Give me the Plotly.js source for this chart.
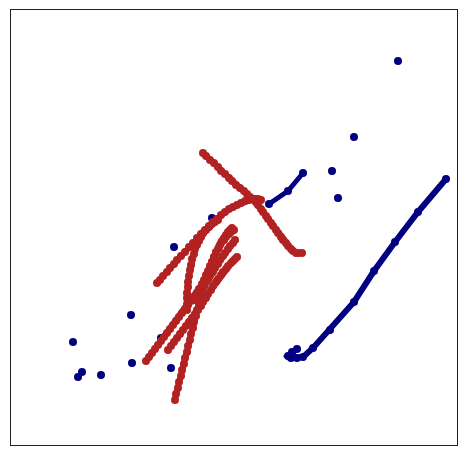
<!DOCTYPE html>
<html><head><meta charset="utf-8">
<script src="https://cdn.plot.ly/plotly-3.0.1.min.js"></script>
<style>html,body{margin:0;padding:0;background:#fff}</style>
</head><body><div id="chart" style="width:467px;height:456px"></div>
<script>
// Values (plot units; y grows downward)
const bluePtsX = [398, 354, 332, 338, 174, 212, 207, 131, 73, 78, 82, 101, 132, 171, 161];
const bluePtsY = [61, 137, 171, 198, 247, 218, 279, 315, 342, 377, 372, 375, 363, 368, 338];

const blueShortX = [269, 288, 303];
const blueShortY = [204, 191, 173];

const blueLongX = [446, 418, 395, 374, 354, 330, 313, 303, 297, 291, 288, 292, 297];
const blueLongY = [179, 212, 242, 271, 302, 330, 348, 357, 358, 358, 356, 352, 349];

const red1X = [203, 206, 210, 214, 218, 221, 225, 229, 232, 236, 240, 244, 247, 250, 253, 256, 258, 261, 263, 266, 268, 271, 273, 276, 278, 281, 283, 286, 288, 291, 293, 296, 298, 302];
const red1Y = [153, 156, 160, 163, 167, 171, 174, 178, 181, 185, 188, 191, 194, 197, 199, 202, 205, 209, 212, 216, 219, 223, 226, 230, 233, 237, 240, 243, 246, 249, 251, 253, 253, 253];

const red2X = [157, 160, 163, 167, 170, 174, 177, 181, 185, 189, 193, 197, 201, 205, 209, 213, 217, 221, 225, 229, 233, 237, 241, 245, 249, 252, 255, 258, 261];
const red2Y = [283, 280, 276, 272, 268, 264, 260, 256, 252, 247, 243, 238, 234, 230, 226, 222, 219, 215, 212, 209, 207, 205, 203, 201, 200, 199, 199, 199, 200];

const red3X = [146, 149, 152, 155, 158, 161, 164, 167, 170, 173, 176, 179, 182, 185, 188, 191, 194, 197, 199, 202, 204, 206, 208, 210, 212, 214, 216, 218, 220, 222, 224, 226, 228, 230, 232];
const red3Y = [361, 357, 353, 349, 345, 341, 337, 333, 329, 325, 321, 317, 313, 309, 305, 301, 297, 293, 289, 284, 280, 275, 271, 266, 262, 257, 253, 249, 245, 241, 238, 235, 232, 230, 228];

const red4X = [168, 171, 174, 177, 180, 183, 186, 189, 192, 195, 198, 201, 203, 206, 208, 211, 213, 216, 218, 221, 223, 226, 228, 231, 233, 235, 237];
const red4Y = [350, 346, 342, 338, 334, 330, 326, 322, 318, 314, 310, 306, 302, 298, 294, 290, 286, 282, 279, 275, 272, 269, 266, 263, 261, 259, 257];

const red5X = [175, 176, 178, 179, 181, 182, 184, 185, 187, 188, 190, 191, 193, 194, 196, 197, 199, 200, 202, 204, 206, 208, 210, 212, 214, 216, 219, 221, 224, 226, 229, 231, 234];
const red5Y = [400, 394, 388, 382, 376, 370, 364, 358, 352, 346, 340, 334, 328, 322, 316, 310, 304, 298, 292, 286, 280, 274, 268, 262, 257, 252, 247, 243, 240, 237, 234, 232, 230];

const red6X = [187, 187, 187, 187, 188, 188, 189, 190, 191, 192, 194, 195, 197, 199, 201, 203, 206, 209, 212, 215, 218];
const red6Y = [310, 304, 298, 293, 287, 282, 276, 270, 265, 259, 254, 249, 245, 241, 237, 233, 230, 227, 224, 222, 220];

const red7X = [195, 198, 200, 203, 205, 208, 210, 213, 215, 218, 220, 223, 225, 228, 230, 233, 235];
const red7Y = [300, 296, 292, 288, 284, 280, 276, 272, 268, 264, 260, 256, 253, 249, 246, 243, 240];

const NAVY = '#000080', RED = '#b22222';
function lineTrace(x, y, color, w) {
  return {x: x, y: y, type: 'scatter', mode: 'lines+markers',
    line: {color: color, width: w}, marker: {color: color, size: 8}, hoverinfo: 'skip'};
}
const traces = [
  {x: bluePtsX, y: bluePtsY, type: 'scatter', mode: 'markers', marker: {color: NAVY, size: 8}, hoverinfo: 'skip'},
  lineTrace(blueShortX, blueShortY, NAVY, 5),
  lineTrace(blueLongX, blueLongY, NAVY, 6),
  lineTrace(red1X, red1Y, RED, 6),
  lineTrace(red2X, red2Y, RED, 6),
  lineTrace(red3X, red3Y, RED, 6),
  lineTrace(red4X, red4Y, RED, 6),
  lineTrace(red5X, red5Y, RED, 6),
  lineTrace(red6X, red6Y, RED, 6),
  lineTrace(red7X, red7Y, RED, 6)
];
const layout = {
  width: 467, height: 456,
  margin: {l: 11, r: 10, t: 10, b: 11},
  paper_bgcolor: '#fff', plot_bgcolor: '#fff',
  showlegend: false,
  xaxis: {range: [11, 457], showgrid: false, zeroline: false, showticklabels: false, ticks: '',
    showline: true, mirror: true, linecolor: '#222', linewidth: 1},
  yaxis: {range: [445, 10], showgrid: false, zeroline: false, showticklabels: false, ticks: '',
    showline: true, mirror: true, linecolor: '#222', linewidth: 1}
};
Plotly.newPlot('chart', traces, layout, {staticPlot: true, displayModeBar: false});
</script></body></html>
